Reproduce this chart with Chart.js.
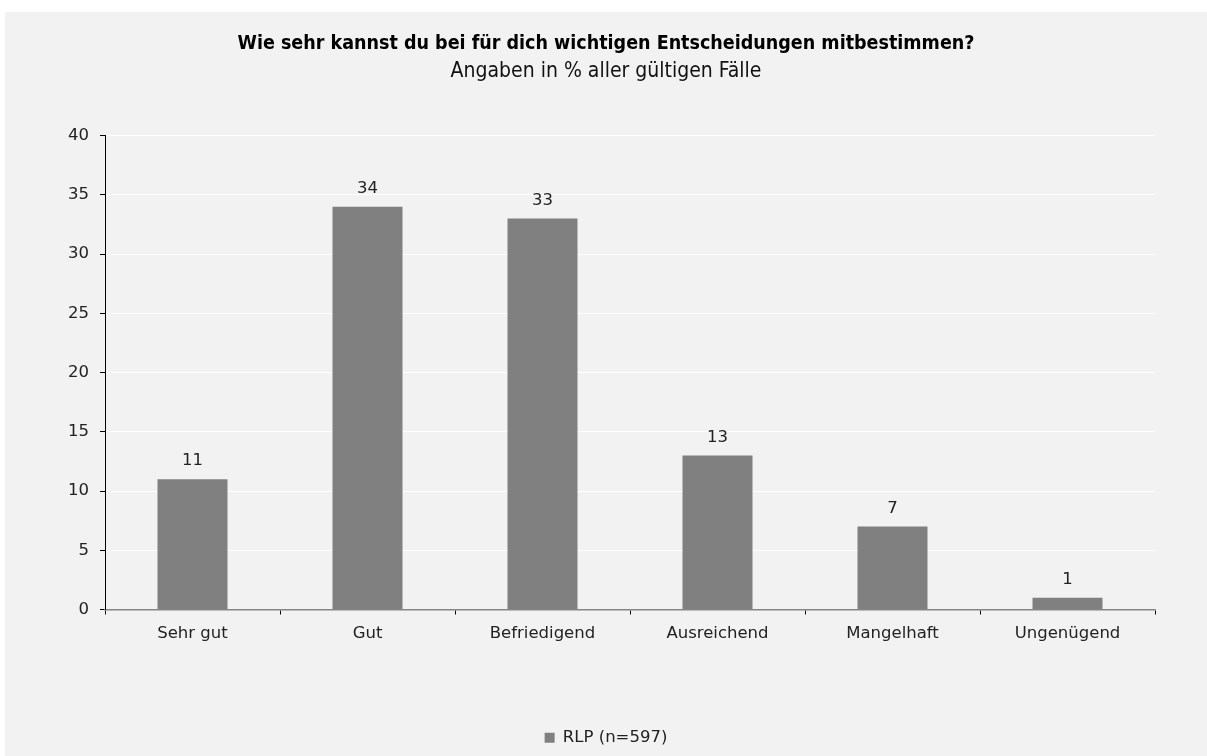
<!DOCTYPE html>
<html>
<head>
<meta charset="utf-8">
<script src="https://cdn.jsdelivr.net/npm/chart.js@4/dist/chart.umd.min.js"></script>
<style>
  html, body { margin: 0; padding: 0; background: #ffffff; }
  #panel {
    position: absolute;
    left: 5px;
    top: 12px;
    width: 1202px;
    height: 744px;
    background: #f2f2f2;
  }
</style>
</head>
<body>
<div id="panel"><canvas id="chart"></canvas></div>
<script>
  const categories = ["Sehr gut", "Gut", "Befriedigend", "Ausreichend", "Mangelhaft", "Ungenügend"];
  const rlpValues = [11, 34, 33, 13, 7, 1];
  const seriesLabel = "RLP (n=597)";
  const titleText = "Wie sehr kannst du bei für dich wichtigen Entscheidungen mitbestimmen?";
  const subtitleText = "Angaben in % aller gültigen Fälle";

  const tickFont = { family: "'DejaVu Sans', sans-serif", size: 16.5 };
  const headFamily = "'DejaVu Sans Condensed', 'Liberation Sans Narrow', sans-serif";

  // simple value labels above each bar
  const barLabels = {
    id: "barLabels",
    afterDatasetsDraw(chart) {
      const ctx = chart.ctx;
      const meta = chart.getDatasetMeta(0);
      ctx.save();
      ctx.font = "16.5px 'DejaVu Sans', sans-serif";
      ctx.fillStyle = "#222222";
      ctx.textAlign = "center";
      ctx.textBaseline = "bottom";
      meta.data.forEach(function (bar, i) {
        ctx.fillText(String(chart.data.datasets[0].data[i]), bar.x, bar.y - 10);
      });
      ctx.restore();
    },
  };

  new Chart(document.getElementById("chart"), {
    type: "bar",
    data: {
      labels: categories,
      datasets: [{
        label: seriesLabel,
        data: rlpValues,
        backgroundColor: "#808080",
        borderWidth: 0,
        barPercentage: 0.4,
        categoryPercentage: 1,
      }],
    },
    options: {
      responsive: true,
      maintainAspectRatio: false,
      animation: false,
      layout: { padding: 0 },
      plugins: {
        title: {
          display: true,
          text: titleText,
          color: "#000000",
          font: { family: headFamily, size: 19.5, weight: "bold" },
          padding: { top: 20, bottom: 4 },
        },
        subtitle: {
          display: true,
          text: subtitleText,
          color: "#111111",
          font: { family: headFamily, size: 21 },
          padding: { top: 0, bottom: 51 },
        },
        legend: {
          position: "bottom",
          labels: {
            boxWidth: 10,
            boxHeight: 10,
            padding: 9,
            color: "#222222",
            font: tickFont,
          },
        },
        tooltip: { enabled: false },
      },
      scales: {
        x: {
          afterFit(scale) { scale.height = 111; },
          grid: {
            offset: true,
            drawOnChartArea: false,
            tickColor: "#000000",
            tickLength: 5,
          },
          border: { color: "#868686", width: 1.5 },
          ticks: { color: "#222222", font: tickFont, padding: 9 },
        },
        y: {
          min: 0,
          max: 40,
          afterFit(scale) { scale.width = 100; },
          grid: {
            color: "#ffffff",
            tickColor: "#000000",
            tickLength: 5,
          },
          border: { color: "#000000", width: 1 },
          ticks: { stepSize: 5, color: "#222222", font: tickFont, padding: 11 },
        },
        // empty spacer on the right so titles stay centred on the full width
        spacer: {
          type: "linear",
          position: "right",
          afterFit(scale) { scale.width = 52; },
          grid: { display: false },
          border: { display: false },
          ticks: { display: false },
        },
      },
    },
    plugins: [barLabels],
  });
</script>
</body>
</html>
